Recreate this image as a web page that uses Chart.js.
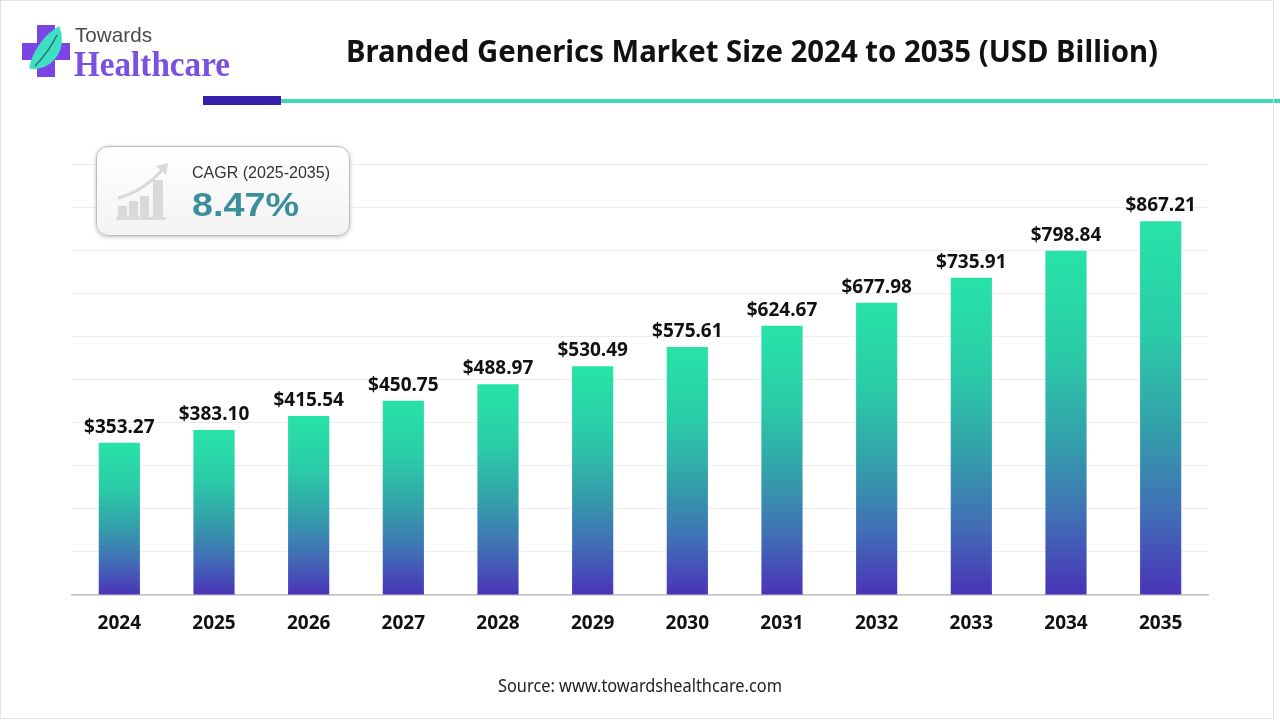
<!DOCTYPE html>
<html>
<head>
<meta charset="utf-8">
<script src="https://cdn.jsdelivr.net/npm/chart.js@4.4.1/dist/chart.umd.min.js"></script>
<style>
  html,body{margin:0;padding:0;background:#fff;}
  #page{position:relative;width:1280px;height:720px;overflow:hidden;background:#fff;}
  #wrap{position:absolute;left:0;top:0;width:1280px;height:720px;}
  .abs{position:absolute;white-space:nowrap;transform-origin:0 0;}
  #frame{position:absolute;left:0;top:0;width:1272px;height:717px;border:1px solid #e2e2e2;pointer-events:none;}
  #title{left:346px;top:36px;font:bold 30px "Noto Sans",sans-serif;line-height:30px;color:#111;}
  #source{left:498px;top:676px;font:18px "Noto Sans",sans-serif;line-height:18px;color:#222;}
  #towards{left:75px;top:24px;font:21px "Liberation Sans",Arial,sans-serif;line-height:21px;color:#4a4a4a;}
  #health{left:74px;top:46px;font:bold 36px "Liberation Serif",serif;line-height:36px;color:#7A50DF;}
  #barPurple{position:absolute;left:203px;top:96px;width:78px;height:9px;background:#3720A9;}
  #barTeal{position:absolute;left:281px;top:99px;width:999px;height:4px;background:#40D9B5;}
  #cagr{position:absolute;left:96px;top:146px;width:252px;height:88px;border:1.5px solid #bdbdbd;border-radius:12px;
        background:linear-gradient(#ffffff,#f3f3f3);box-shadow:0 1px 4px rgba(0,0,0,0.25);}
  #cagrLbl{left:192px;top:165px;font:16px "Liberation Sans",Arial,sans-serif;line-height:16px;color:#333;}
  #cagrVal{left:192px;top:187px;font:bold 34px "Liberation Sans",Arial,sans-serif;line-height:34px;color:#3A8F9B;}
</style>
</head>
<body>
<div id="page">
  <div id="wrap"><canvas id="chart"></canvas></div>

  <svg class="abs" style="left:0;top:0" width="240" height="90">
    <rect x="37" y="25" width="18" height="52" fill="#7B45E6"/>
    <rect x="22" y="43" width="48" height="17" fill="#7B45E6"/>
    <path d="M29 68 C 33 50, 44 35, 59 26 C 66 42, 60 60, 44 67 C 39 69, 33 70, 29 68 Z" fill="#3FE0C2"/>
    <path d="M35 66 C 44 57, 51 47, 57 35" stroke="#1f6f73" stroke-width="1.4" fill="none"/>
  </svg>
  <div id="towards" class="abs" data-w="77">Towards</div>
  <div id="health" class="abs" data-w="156">Healthcare</div>

  <div id="title" class="abs" data-w="812">Branded Generics Market Size 2024 to 2035 (USD Billion)</div>
  <div id="barPurple"></div>
  <div id="barTeal"></div>

  <div id="cagr"></div>
  <svg class="abs" style="left:110px;top:158px" width="75" height="65">
    <g fill="#d9d9d9">
      <rect x="8" y="48" width="9" height="13"/>
      <rect x="19" y="43" width="9" height="18"/>
      <rect x="30" y="38" width="9" height="23"/>
      <rect x="43" y="22" width="10" height="39"/>
      <rect x="6" y="59" width="50" height="3"/>
    </g>
    <path d="M8 40 C 24 36, 40 26, 54 10" stroke="#d9d9d9" stroke-width="3" fill="none"/>
    <path d="M46 8 L 58 5 L 56 17 Z" fill="#d9d9d9"/>
  </svg>
  <div id="cagrLbl" class="abs" data-w="138">CAGR (2025-2035)</div>
  <div id="cagrVal" class="abs" data-w="107">8.47%</div>

  <div id="source" class="abs" data-w="284">Source: www.towardshealthcare.com</div>
  <div id="frame"></div>
</div>

<script>
const categories = ['2024','2025','2026','2027','2028','2029','2030','2031','2032','2033','2034','2035'];
const values = [353.27, 383.10, 415.54, 450.75, 488.97, 530.49, 575.61, 624.67, 677.98, 735.91, 798.84, 867.21];
const yMax = 1000;
const yStep = 100;

// fit overlay texts to their measured widths
document.querySelectorAll('[data-w]').forEach(el => {
  const w = el.getBoundingClientRect().width;
  const target = parseFloat(el.dataset.w);
  if (w > 0) el.style.transform = 'scaleX(' + (target / w) + ')';
});

function barGradient(context) {
  const chart = context.chart;
  if (!chart.chartArea || context.type !== 'data') return '#2BC9A8';
  const ys = chart.scales.y;
  const top = ys.getPixelForValue(values[context.dataIndex]);
  const bottom = ys.getPixelForValue(0);
  const g = chart.ctx.createLinearGradient(0, top, 0, bottom);
  g.addColorStop(0, '#27E3A7');
  g.addColorStop(0.3, '#2BCBA8');
  g.addColorStop(0.55, '#33A0AA');
  g.addColorStop(0.78, '#416EB6');
  g.addColorStop(1, '#4A33B8');
  return g;
}

const labelPlugin = {
  id: 'valueLabels',
  afterDatasetsDraw(chart) {
    const ctx = chart.ctx;
    const meta = chart.getDatasetMeta(0);
    ctx.save();
    ctx.font = 'bold 19px "Noto Sans", sans-serif';
    ctx.fillStyle = '#111';
    ctx.textAlign = 'center';
    ctx.textBaseline = 'alphabetic';
    meta.data.forEach((bar, i) => {
      ctx.fillText('$' + values[i].toFixed(2), bar.x, bar.y - 10);
    });
    ctx.restore();
  }
};

new Chart(document.getElementById('chart'), {
  type: 'bar',
  data: {
    labels: categories,
    datasets: [{
      data: values,
      backgroundColor: barGradient,
      borderWidth: 0,
      barPercentage: 0.435,
      categoryPercentage: 1.0
    }]
  },
  options: {
    responsive: true,
    maintainAspectRatio: false,
    animation: false,
    layout: { padding: { left: 72, right: 72, top: 164, bottom: 85 } },
    plugins: { legend: { display: false }, tooltip: { enabled: false } },
    scales: {
      x: {
        grid: { display: false, drawTicks: false },
        border: { display: true, color: '#c4c4c4', width: 1.5 },
        ticks: { color: '#111', font: { family: '"Noto Sans", sans-serif', size: 19, weight: 'bold' }, padding: 17 },
        afterFit(scale) { scale.height = 40; }
      },
      y: {
        min: 0, max: yMax,
        ticks: { display: false, stepSize: yStep },
        grid: { color: '#ececec', lineWidth: 1, drawTicks: false },
        border: { display: false },
        afterFit(scale) { scale.width = 0; }
      }
    }
  },
  plugins: [labelPlugin]
});
</script>
</body>
</html>
